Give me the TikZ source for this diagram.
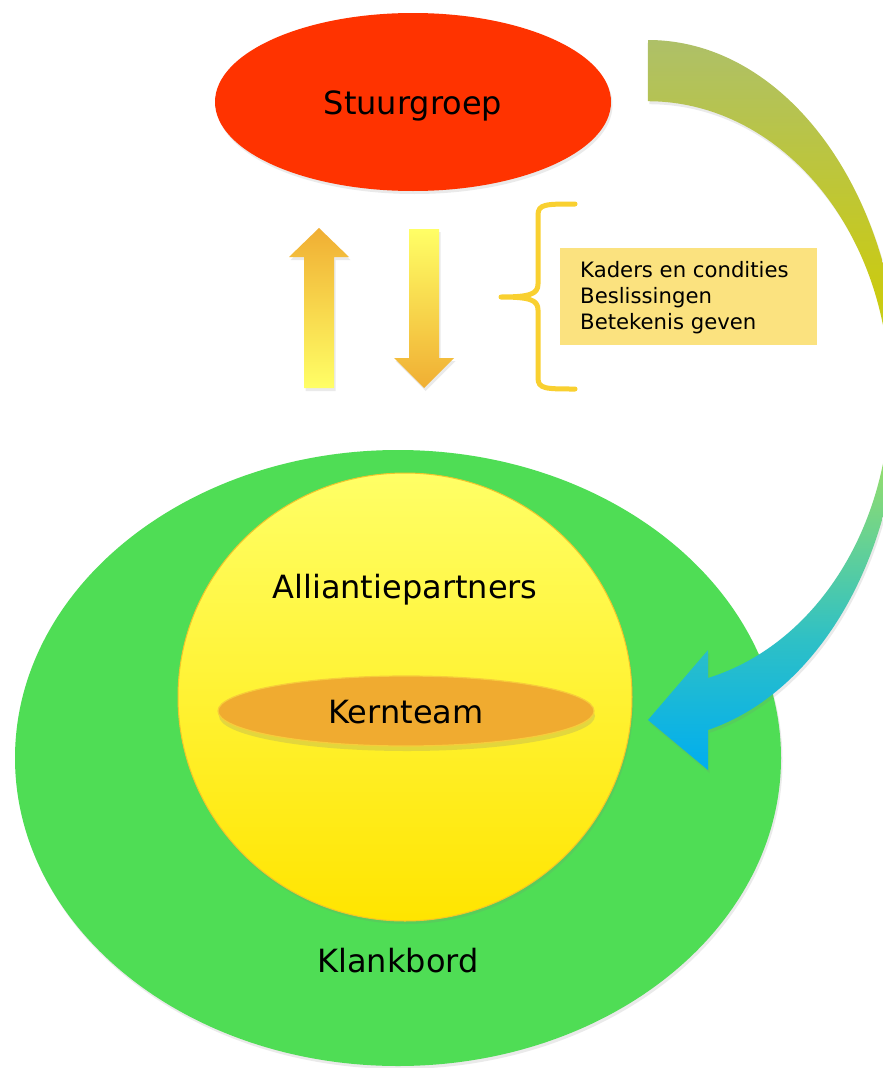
\documentclass[tikz,border=0pt]{standalone}
\usepackage{fontspec}
\setmainfont{DejaVu Sans}
\usetikzlibrary{shapes.geometric,shadows}
\definecolor{sgred}{HTML}{FF3300}
\definecolor{kbgreen}{HTML}{4FDD55}
\definecolor{alltop}{HTML}{FFFF66}
\definecolor{allbot}{HTML}{FFE500}
\definecolor{allline}{HTML}{F2C52A}
\definecolor{ktfill}{HTML}{F0AB30}
\definecolor{ktline}{HTML}{F7CC3A}
\definecolor{arrOr}{HTML}{F0AE33}
\definecolor{arrYe}{HTML}{FFFF66}
\definecolor{bracec}{HTML}{F9D030}
\definecolor{boxc}{HTML}{FBE27F}
\definecolor{cb0}{HTML}{AEC068}
\definecolor{cb1}{HTML}{CBCB10}
\definecolor{cb2}{HTML}{A0E060}
\definecolor{cb3}{HTML}{68D292}
\definecolor{cb4}{HTML}{2EC0C6}
\definecolor{cb5}{HTML}{00AEEF}
\pgfdeclareverticalshading{bendshade}{100bp}{color(0bp)=(cb5); color(25bp)=(cb5); color(33.9bp)=(cb4); color(40.8bp)=(cb3); color(47.6bp)=(cb2); color(57.2bp)=(cb1); color(75bp)=(cb0); color(100bp)=(cb0)}
\begin{document}
\begin{tikzpicture}[x=1pt,y=-1pt,
  shad/.style={drop shadow={opacity=0.16,shadow xshift=1.5pt,shadow yshift=-3pt}},
  biglbl/.style={font=\fontsize{32}{38}\selectfont, text=black, inner sep=0, anchor=base},
  smalllbl/.style={font=\fontsize{21.2}{26}\selectfont, text=black, inner sep=0, anchor=base west},
  blob/.style={ellipse, inner sep=0}]
\clip (0,0) rectangle (883,1068);
\fill[white] (0,0) rectangle (883,1068);

% Stuurgroep
\node[blob, fill=sgred, minimum width=396pt, minimum height=178pt, shad] (sg) at (413,102) {};
\node[biglbl] (sgt) at (413,114) {Stuurgroep};

% up and down arrows
\path[top color=arrOr, bottom color=arrYe, shad]
  (319,228) -- (349,257) -- (334,257) -- (334,388) -- (304,388) -- (304,257) -- (289,257) -- cycle;
\path[top color=arrYe, bottom color=arrOr, shad]
  (409,229) -- (439,229) -- (439,358) -- (454,358) -- (424,388) -- (394,358) -- (409,358) -- cycle;

% brace
\draw[bracec, line width=5pt, line cap=round, line join=round]
  (575,204) .. controls (546,204) and (538,204) .. (538,215) -- (538,284)
  .. controls (538,294) and (530,297) .. (501,297)
  .. controls (530,297) and (538,300) .. (538,310) -- (538,378)
  .. controls (538,389) and (546,389) .. (575,389);

% box
\node[fill=boxc, minimum width=257pt, minimum height=97pt, inner sep=0] (box) at (688.5,296.5) {};
\node[smalllbl] (l1) at (580,277) {Kaders en condities};
\node[smalllbl] (l2) at (580,303) {Beslissingen};
\node[smalllbl] (l3) at (580,329) {Betekenis geven};

% Klankbord
\node[blob, fill=kbgreen, minimum width=766pt, minimum height=616pt, shad] (kb) at (398,758) {};
\node[biglbl] (kbt) at (398,972) {Klankbord};

% Alliantiepartners
\node[blob, top color=alltop, bottom color=allbot, draw=allline, line width=1pt,
      minimum width=454pt, minimum height=448pt, shad] (ap) at (405,697) {};
\node[biglbl] (apt) at (405,598) {Alliantiepartners};

% Kernteam
\node[blob, fill=ktfill, draw=ktline, line width=1.2pt, minimum width=376pt, minimum height=70pt,
      drop shadow={opacity=0.22,shadow xshift=1pt,shadow yshift=-5pt}] (kt) at (406,711) {};
\node[biglbl] (ktt) at (406,723) {Kernteam};

% curved arrow
\path[shading=bendshade, shad]
  (648,40) arc[start angle=-90, end angle=76.2, x radius=252, y radius=350]
  -- (708,770) -- (648,720) -- (708,650) -- (708,678)
  arc[start angle=75.6, end angle=-90, x radius=242, y radius=293] -- cycle;
\end{tikzpicture}
\end{document}
